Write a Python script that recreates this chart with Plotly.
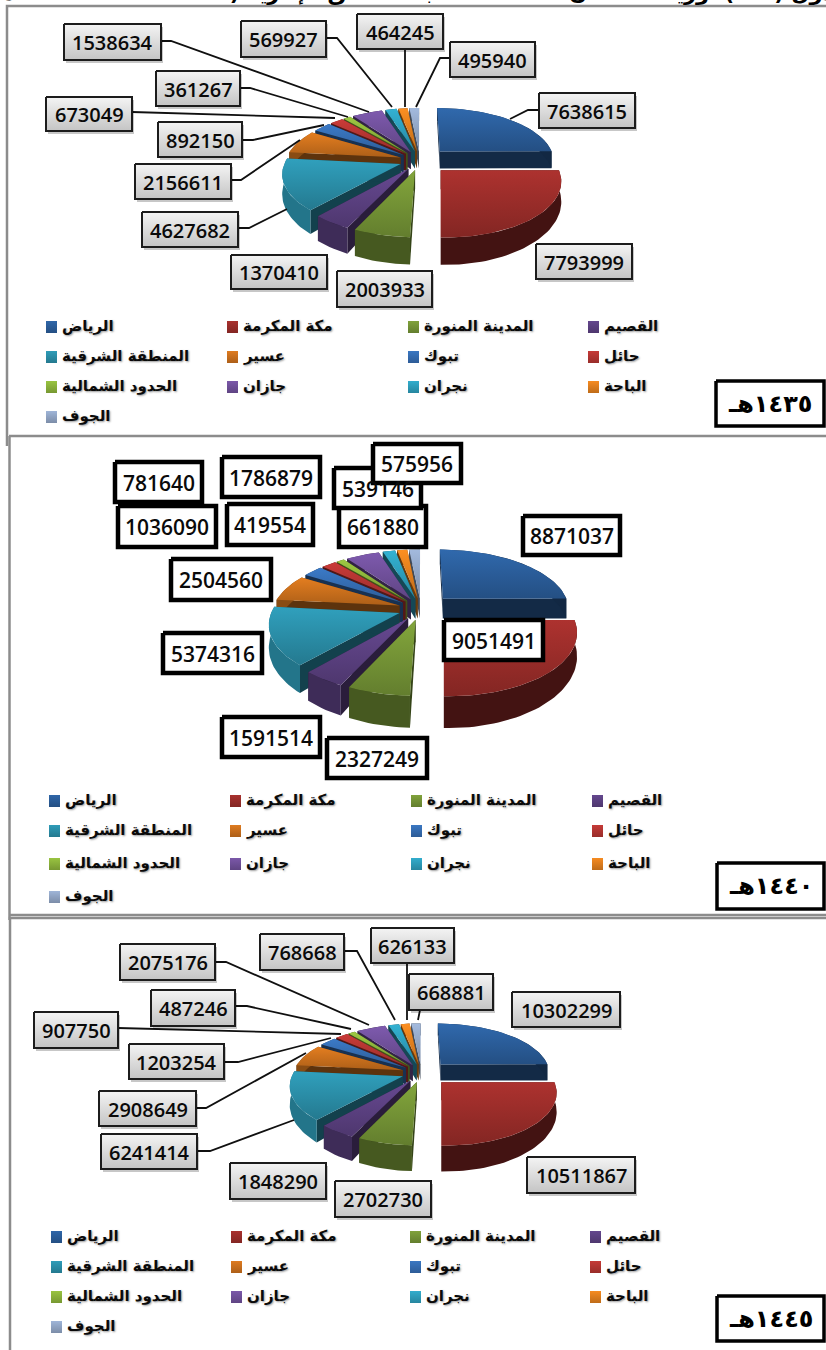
import numpy as np
import plotly.graph_objects as go

regions = ["الرياض", "مكة المكرمة", "المدينة المنورة", "القصيم", "المنطقة الشرقية", "عسير", "تبوك",
           "حائل", "الحدود الشمالية", "جازان", "نجران", "الباحة", "الجوف"]
values_1435 = [7638615, 7793999, 2003933, 1370410, 4627682, 2156611, 892150, 673049, 361267, 1538634, 569927, 464245, 495940]
values_1440 = [8871037, 9051491, 2327249, 1591514, 5374316, 2504560, 1036090, 781640, 419554, 1786879, 661880, 539146, 575956]
values_1445 = [10302299, 10511867, 2702730, 1848290, 6241414, 2908649, 1203254, 907750, 487246, 2075176, 768668, 626133, 668881]
year_labels = ["١٤٣٥هـ", "١٤٤٠هـ", "١٤٤٥هـ"]
title_text = "جدول ( ١٣ ) توزيعات سكان المملكة حسب المناطق الإدارية ( ١٤٣٥ - ١٤٤٠ - ١٤٤٥ هـ )"

colors = ["#2f66a8", "#a8312e", "#80a23b", "#64478e", "#2f9cb8", "#de7b20", "#3a77c2",
          "#c53a37", "#99c441", "#7b58a9", "#32adcd", "#f68b21", "#9fb5d8"]

# layout of each panel (style only)
panels = [
    dict(cx=420, cy=160.5, R=115, tR=53, h=18),
    dict(cx=421, cy=609, R=127, tR=60, h=21),
    dict(cx=421.5, cy=1073, R=110, tR=50, h=17),
]
E_RIGHT, E_LEFT, K = 0.25, 0.18, 0.16
wall_shade = {2: 0.55, 3: 0.62, 4: 0.75, 5: 0.62}

boxes_1 = [(539,93,635,128),(536,244,632,279),(337,271,432,307),(231,255,327,289),(142,212,238,247),(135,164,231,199),
           (158,122,242,157),(46,97,132,131),(156,71,240,106),(64,24,161,60),(241,21,326,57),(357,14,443,49),(450,42,535,77)]
boxes_2 = [(523,516,620,555),(444,620,543,660),(327,738,427,778),(222,717,320,757),(163,633,262,673),(171,559,271,600),
           (118,506,216,547),(115,462,202,502),(227,504,313,545),(222,457,320,497),(339,506,426,547),(334,468,421,508),(373,444,461,483)]
boxes_3 = [(512,992,620,1027),(527,1157,635,1193),(335,1181,431,1217),(230,1163,326,1199),(101,1134,197,1169),(99,1091,196,1126),
           (129,1044,224,1079),(34,1012,118,1048),(151,990,235,1026),(120,944,215,980),(260,934,344,970),(371,928,454,963),(409,974,493,1010)]
leaders_1 = [[(539,110),(528,110),(510,119)],[(238,228),(249,228),(287,209)],[(231,180),(241,180),(300,140)],
             [(242,140),(253,140),(324,125)],[(132,112),(335,118)],[(240,88),(250,88),(348,117)],[(161,41),(171,41),(369,112)],
             [(326,38),(337,38),(392,107)],[(405,49),(405,107)],[(450,58),(440,58),(416,107)]]
leaders_3 = [[(197,1151),(210,1151),(294,1120)],[(196,1108),(206,1108),(306,1053)],[(224,1062),(238,1062),(331,1038)],
             [(118,1028),(341,1034)],[(235,1006),(247,1006),(351,1029)],[(215,962),(226,962),(369,1025)],
             [(344,951),(357,951),(395,1020)],[(407,963),(407,1020)],[(420,1010),(418,1020)]]
legend_cols = [[46,227,408,588],[49,230,411,592],[51,231,410,590]]
legend_rows = [[327,357,387,417],[801,831,864,897],[1237,1267,1297,1327]]
year_boxes = [(716,381,824,426),(717,863,824,909),(717,1296,824,1341)]


def shade(c, f):
    r, g, b = int(c[1:3], 16), int(c[3:5], 16), int(c[5:7], 16)
    return "#%02x%02x%02x" % tuple(int(min(255, v * f)) for v in (r, g, b))


def poly(xs, ys, top, bottom=None, name=""):
    kw = dict(x=list(xs), y=list(ys), mode="lines", line=dict(width=0), fill="toself",
              hoverinfo="skip", showlegend=False, name=name)
    if bottom is None:
        kw["fillcolor"] = top
    else:
        kw["fillgradient"] = dict(type="vertical", colorscale=[[0, top], [1, bottom]])
        kw["fillcolor"] = top
    return go.Scatter(**kw)


def project(X, Y, z, p):
    s = 1.0 / (1.0 + K * Y)
    return p["cx"] + p["R"] * X * s, p["cy"] - p["tR"] * Y * s + z * p["h"] * s * s


def pie(values, p):
    shares = np.array(values, float) / np.sum(values)
    ends = np.cumsum(shares) * 2 * np.pi
    starts = ends - shares * 2 * np.pi
    mids = (starts + ends) / 2
    out = []
    for i in sorted(range(len(values)), key=lambda j: -np.cos(mids[j])):
        a = np.linspace(starts[i], ends[i], max(4, int(shares[i] * 200)))
        e = E_LEFT if mids[i] > np.pi else E_RIGHT
        ox, oy = e * np.sin(mids[i]), e * np.cos(mids[i])
        X, Y = ox + np.sin(a), oy + np.cos(a)
        c = colors[i]
        # cut faces
        for k in (0, -1):
            fx = [project(ox, oy, 0, p)[0], project(X[k], Y[k], 0, p)[0], project(X[k], Y[k], 1, p)[0], project(ox, oy, 1, p)[0]]
            fy = [project(ox, oy, 0, p)[1], project(X[k], Y[k], 0, p)[1], project(X[k], Y[k], 1, p)[1], project(ox, oy, 1, p)[1]]
            out.append(poly(fx, fy, shade(c, 0.42)))
        # outer wall
        tx, ty = project(X, Y, 0, p)
        bx, by = project(X, Y, 1, p)
        out.append(poly(np.r_[tx, bx[::-1]], np.r_[ty, by[::-1]], shade(c, wall_shade.get(i, 0.4))))
        # top face
        ax, ay = project(ox, oy, 0, p)
        out.append(poly(np.r_[ax, tx, ax], np.r_[ay, ty, ay], shade(c, 0.78), shade(c, 1.03), name=regions[i]))
    return out


traces, ann = [], []

# panel frames
frames = [([7, 7, 826], [446, 6, 6]), ([9, 826], [436, 436]), ([10, 10, 826], [1350, 918, 918]), ([9.5, 9.5], [436, 920]), ([10, 826], [915, 915])]
for fx, fy in frames:
    traces.append(go.Scatter(x=fx, y=fy, mode="lines", line=dict(color="#8c8c8c", width=2.5), hoverinfo="skip", showlegend=False))

all_values = [values_1435, values_1440, values_1445]
all_boxes = [boxes_1, boxes_2, boxes_3]
all_leaders = [leaders_1, [], leaders_3]

for pi, (vals, p) in enumerate(zip(all_values, panels)):
    traces += pie(vals, p)
    for seg in all_leaders[pi]:
        traces.append(go.Scatter(x=[q[0] for q in seg], y=[q[1] for q in seg], mode="lines",
                                 line=dict(color="#101010", width=1.8), hoverinfo="skip", showlegend=False))
    for v, (x0, y0, x1, y1) in zip(vals, all_boxes[pi]):
        xs, ys = [x0, x1, x1, x0, x0], [y0, y0, y1, y1, y0]
        if pi == 1:
            traces.append(go.Scatter(x=xs, y=ys, mode="lines", fill="toself", fillcolor="white",
                                     line=dict(color="black", width=4.5), hoverinfo="skip", showlegend=False))
        else:
            traces.append(poly([x + 2 for x in xs], [y + 3 for y in ys], "rgba(0,0,0,0.22)"))
            tr = poly(xs, ys, "#c4c4c4", "#f4f4f4")
            tr.line = dict(color="#1c1c1c", width=2)
            traces.append(tr)
    for v, (x0, y0, x1, y1) in zip(vals, all_boxes[pi]):
        ann.append(dict(x=(x0 + x1) / 2, y=(y0 + y1) / 2 + 0.5, text=str(v), showarrow=False, xanchor="center", yanchor="middle",
                        font=dict(family="Open Sans, Liberation Sans", size=20 if pi != 1 else 21, color="#0a0a0a", weight=600)))
    # legend
    for i, name in enumerate(regions):
        r, col = i // 4, i % 4
        sx, sy = legend_cols[pi][col], legend_rows[pi][r]
        traces.append(poly([sx, sx + 11, sx + 11, sx, sx], [sy - 6, sy - 6, sy + 6, sy + 6, sy - 6],
                           shade(colors[i], 0.78), shade(colors[i], 1.0), name=name))
        ann.append(dict(x=sx + 14, y=sy - 1, text=name, showarrow=False, xanchor="left", yanchor="middle",
                        font=dict(family="DejaVu Sans", size=15, color="#0a0a0a", weight="bold", shadow="1px 1px 2px #999999")))
    # year tag
    x0, y0, x1, y1 = year_boxes[pi]
    traces.append(go.Scatter(x=[x0, x1, x1, x0, x0], y=[y0, y0, y1, y1, y0], mode="lines", fill="toself", fillcolor="white",
                             line=dict(color="black", width=3.5), hoverinfo="skip", showlegend=False))
    ann.append(dict(x=(x0 + x1) / 2, y=(y0 + y1) / 2, text="\u200f" + year_labels[pi], showarrow=False, xanchor="center", yanchor="middle",
                    font=dict(family="DejaVu Sans", size=24, color="black", weight="bold")))

ann.append(dict(x=413, y=7, text=title_text, showarrow=False, xanchor="center", yanchor="bottom",
                font=dict(family="DejaVu Sans", size=21, color="black", weight="bold")))

fig = go.Figure(data=traces)
fig.update_layout(width=826, height=1350, margin=dict(l=0, r=0, t=0, b=0), paper_bgcolor="white", plot_bgcolor="white",
                  xaxis=dict(range=[0, 826], visible=False, fixedrange=True),
                  yaxis=dict(range=[1350, 0], visible=False, fixedrange=True),
                  annotations=ann, showlegend=False)
fig.write_html("out.html", post_script="document.body.style.margin='0';document.body.style.overflow='hidden';",
               config={"displayModeBar": False})
